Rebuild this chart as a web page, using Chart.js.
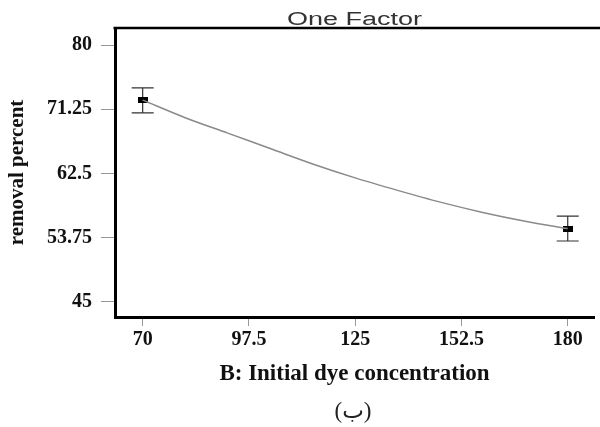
<!DOCTYPE html>
<html>
<head>
<meta charset="utf-8">
<script src="https://cdn.jsdelivr.net/npm/chart.js@4/dist/chart.umd.min.js"></script>
<style>
  html, body { margin: 0; padding: 0; background: #fff; }
</style>
</head>
<body>
<canvas id="factorChart" width="600" height="427"></canvas>
<script>
// model curve
const concentration = [70, 81, 92, 103, 114, 125, 136, 147, 158, 169, 180];
const removal = [72.5, 70.1, 68.0, 65.9, 63.8, 61.9, 60.2, 58.6, 57.2, 56.0, 55.0];

// design points with their error bars
const designX = [70, 180];
const designMean = [72.45, 55.0];
const designErr = [1.7, 1.7];

const xTicks = [70, 97.5, 125, 152.5, 180];
const yTicks = [45, 53.75, 62.5, 71.25, 80];

// small black bar used as the point marker
const marker = document.createElement("canvas");
marker.width = 10;
marker.height = 6;
const mctx = marker.getContext("2d");
mctx.fillStyle = "#000";
mctx.fillRect(0, 0, 10, 6);

const errorBars = {
  id: "errorBars",
  beforeDatasetsDraw(chart) {
    const { ctx, scales: { x, y } } = chart;
    ctx.save();
    ctx.strokeStyle = "#333";
    ctx.lineWidth = 1.2;
    for (let i = 0; i < designX.length; i++) {
      const px = x.getPixelForValue(designX[i]);
      const top = y.getPixelForValue(designMean[i] + designErr[i]);
      const bot = y.getPixelForValue(designMean[i] - designErr[i]);
      ctx.beginPath();
      ctx.moveTo(px, top); ctx.lineTo(px, bot);
      ctx.moveTo(px - 11, top); ctx.lineTo(px + 11, top);
      ctx.moveTo(px - 11, bot); ctx.lineTo(px + 11, bot);
      ctx.stroke();
    }
    ctx.restore();
  }
};

const frameAndText = {
  id: "frameAndText",
  afterDraw(chart) {
    const { ctx, chartArea } = chart;
    ctx.save();
    // top frame line
    ctx.strokeStyle = "#000";
    ctx.lineWidth = 2.5;
    ctx.beginPath();
    ctx.moveTo(chartArea.left - 1.5, chartArea.top);
    ctx.lineTo(chart.width, chartArea.top);
    ctx.stroke();

    // title, stretched wide like the original
    ctx.fillStyle = "#333";
    ctx.font = "18px 'Liberation Sans'";
    ctx.textAlign = "center";
    ctx.textBaseline = "alphabetic";
    ctx.translate((chartArea.left + chartArea.right) / 2, 25);
    ctx.scale(1.5, 1);
    ctx.fillText("One Factor", 0, 0);
    ctx.restore();

    // caption under the chart
    ctx.save();
    ctx.fillStyle = "#222";
    ctx.font = "23px 'Liberation Serif', 'DejaVu Sans'";
    ctx.textAlign = "center";
    ctx.textBaseline = "middle";
    ctx.fillText("(ب)", 353, 412);
    ctx.restore();
  }
};

const tickFont = { family: "Liberation Serif", size: 20, weight: "bold" };

new Chart(document.getElementById("factorChart"), {
  type: "scatter",
  data: {
    datasets: [
      {
        data: concentration.map((c, i) => ({ x: c, y: removal[i] })),
        showLine: true,
        cubicInterpolationMode: "monotone",
        borderColor: "#8a8a8a",
        borderWidth: 1.5,
        pointRadius: 0
      },
      {
        data: designX.map((c, i) => ({ x: c, y: designMean[i] })),
        pointStyle: marker,
        pointRadius: 5
      }
    ]
  },
  options: {
    responsive: false,
    animation: false,
    layout: { padding: { left: 0, right: 0, top: 28, bottom: 0 } },
    plugins: {
      legend: { display: false },
      tooltip: { enabled: false }
    },
    scales: {
      x: {
        type: "linear",
        min: 62.84,
        max: 186.8,
        afterBuildTicks: s => { s.ticks = xTicks.map(v => ({ value: v })); },
        afterFit: s => { s.height = 110; },
        border: { color: "#000", width: 3 },
        grid: { drawOnChartArea: false, tickLength: 9, tickColor: "#999" },
        ticks: {
          autoSkip: false,
          maxRotation: 0,
          padding: 2,
          color: "#111",
          font: tickFont,
          callback: v => String(v)
        },
        title: {
          display: true,
          text: "B: Initial dye concentration",
          color: "#111",
          font: { family: "Liberation Serif", size: 23, weight: "bold" },
          padding: { top: 0, bottom: 39 }
        }
      },
      y: {
        min: 42.95,
        max: 82.32,
        afterBuildTicks: s => { s.ticks = yTicks.map(v => ({ value: v })); },
        afterFit: s => { s.width = 115; },
        border: { color: "#000", width: 3 },
        grid: { drawOnChartArea: false, tickLength: 14, tickColor: "#999" },
        ticks: {
          autoSkip: false,
          padding: 9,
          color: "#111",
          font: tickFont,
          callback: v => String(v)
        },
        title: {
          display: true,
          text: "removal percent",
          color: "#111",
          font: { family: "Liberation Serif", size: 21, weight: "bold" },
          padding: { top: 5, bottom: 0 }
        }
      }
    }
  },
  plugins: [errorBars, frameAndText]
});
</script>
</body>
</html>
